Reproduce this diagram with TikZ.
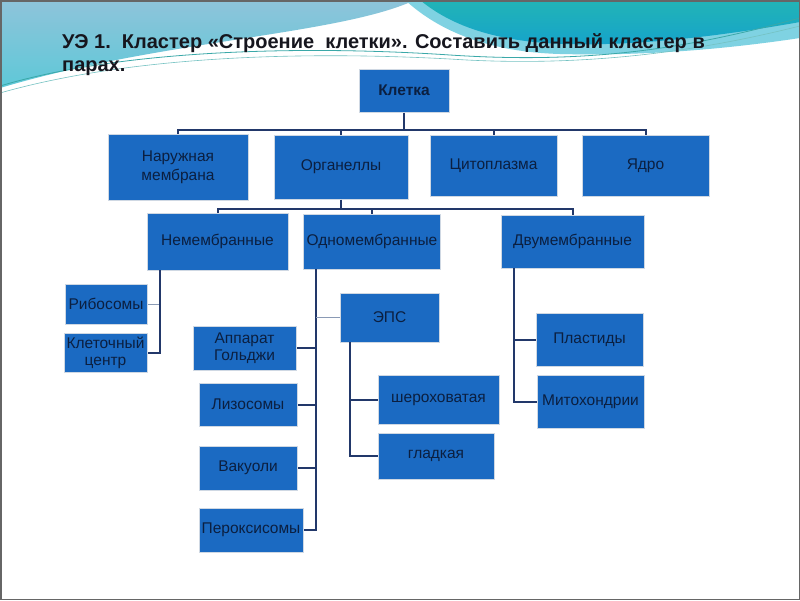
\documentclass[tikz,border=0pt]{standalone}
\usepackage{fontspec}
\setmainfont{Liberation Sans}
\definecolor{boxfill}{HTML}{1B6AC2}
\definecolor{boxline}{HTML}{CFD8E3}
\definecolor{boxtxt}{HTML}{0B1F40}
\definecolor{connc}{HTML}{22386A}
\definecolor{thinc}{HTML}{8A9AB5}
\definecolor{lblue}{HTML}{8EC4DA}
\definecolor{lblueb}{HTML}{5EC8D8}
\definecolor{cyanl}{HTML}{7FD2E2}
\definecolor{cyand}{HTML}{15A3CB}
\definecolor{cyant}{HTML}{22B4B6}
\definecolor{tealline}{HTML}{3AA8A8}
\definecolor{titlec}{HTML}{16161E}
\tikzset{
  box/.style={draw=boxline, line width=1pt, fill=boxfill, text=boxtxt, inner sep=1pt,
    align=center, font=\fontsize{15.5}{19}\selectfont},
  conn/.style={draw=connc, line width=2pt},
  thinconn/.style={draw=thinc, line width=1pt},
}
\begin{document}
\begin{tikzpicture}[x=1pt,y=-1pt]
\useasboundingbox (0,0) rectangle (800,600);
\fill[white] (0,0) rectangle (800,600);
% banner
\shade[top color=lblue, bottom color=lblueb] (0,0) -- (415,0) .. controls (340,35) and (160,40) .. (0,88) -- cycle;
\fill[cyanl] (405,0) -- (800,0) -- (800,38) .. controls (720,50) and (640,56) .. (560,54) .. controls (490,52) and (440,32) .. (405,0) -- cycle;
\shade[top color=cyant, bottom color=cyand] (420,0) -- (800,0) -- (800,22) .. controls (710,38) and (630,46) .. (565,44) .. controls (495,42) and (450,25) .. (420,0) -- cycle;
\draw[tealline, line width=0.8pt] (0,86) .. controls (120,50) and (300,45) .. (450,55) .. controls (600,65) and (700,45) .. (800,18);
\draw[tealline!70, line width=0.6pt] (0,93) .. controls (130,56) and (300,51) .. (450,59) .. controls (600,69) and (720,46) .. (800,26);
% title
\node[anchor=base west, text=titlec, font=\fontsize{20}{24}\bfseries, inner sep=0pt] (t1) at (62,48) {УЭ 1.\ \ Кластер «Строение\ \ клетки». Составить данный кластер в};
\node[anchor=base west, text=titlec, font=\fontsize{20}{24}\bfseries, inner sep=0pt] (t2) at (62,71) {парах.};
% junction points
\coordinate (b1) at (404,130);
\coordinate (b2) at (341,209);
\coordinate (nemv) at (160,270);
\coordinate (odnv) at (316,269);
\coordinate (epsv) at (350,342);
\coordinate (dvuv) at (514,268);
% boxes
\node[box, minimum width=90pt, minimum height=43pt, font=\fontsize{15.5}{18}\bfseries] (kl) at (404,90.5) {Клетка};
\node[box, minimum width=140pt, minimum height=66pt] (nm) at (178,167) {Наружная\\мембрана};
\node[box, minimum width=134pt, minimum height=64pt] (org) at (341,167) {Органеллы};
\node[box, minimum width=127pt, minimum height=61pt] (cyt) at (493.5,165.5) {Цитоплазма};
\node[box, minimum width=127pt, minimum height=61pt] (yad) at (645.5,165.5) {Ядро};
\node[box, minimum width=141pt, minimum height=57pt] (nem) at (217.5,241.5) {Немембранные};
\node[box, minimum width=137pt, minimum height=55pt] (odn) at (372,241.5) {Одномембранные};
\node[box, minimum width=143pt, minimum height=53pt] (dvu) at (572.5,241.5) {Двумембранные};
\node[box, minimum width=82pt, minimum height=40pt] (rib) at (106,304) {Рибосомы};
\node[box, minimum width=83pt, minimum height=39pt, font=\fontsize{15.5}{17}\selectfont] (kc) at (105.5,352.5) {Клеточный\\центр};
\node[box, minimum width=103pt, minimum height=44pt, font=\fontsize{15.5}{17}\selectfont] (gol) at (244.5,348) {Аппарат\\Гольджи};
\node[box, minimum width=98pt, minimum height=43pt] (liz) at (248,404.5) {Лизосомы};
\node[box, minimum width=98pt, minimum height=44pt] (vak) at (248,468) {Вакуоли};
\node[box, minimum width=104pt, minimum height=44pt] (per) at (251,530) {Пероксисомы};
\node[box, minimum width=99pt, minimum height=49pt] (eps) at (389.5,317.5) {ЭПС};
\node[box, minimum width=121pt, minimum height=49pt] (sher) at (438.5,399.5) {шероховатая};
\node[box, minimum width=116pt, minimum height=46pt] (glad) at (436,456) {гладкая};
\node[box, minimum width=107pt, minimum height=53pt] (pla) at (589.5,339.5) {Пластиды};
\node[box, minimum width=107pt, minimum height=53pt] (mit) at (590.5,401.5) {Митохондрии};
% connectors level 1
\draw[conn] (kl.south) -- (b1);
\draw[conn] (b1) -| (nm.north);
\draw[conn] (b1) -| (org.north);
\draw[conn] (b1) -| (cyt.north);
\draw[conn] (b1) -| (yad.north);
% level 2
\draw[conn] (org.south) -- (b2);
\draw[conn] (b2) -| (nem.north);
\draw[conn] (b2) -| (odn.north);
\draw[conn] (b2) -| (dvu.north);
% level 3
\draw[thinconn] (nemv) |- (rib.east);
\draw[conn] (nemv) |- (kc.east);
\draw[conn] (odnv) |- (gol.east);
\draw[conn] (odnv) |- (liz.east);
\draw[conn] (odnv) |- (vak.east);
\draw[conn] (odnv) |- (per.east);
\draw[thinconn] (odnv |- eps.west) -- (eps.west);
\draw[conn] (epsv) |- (sher.west);
\draw[conn] (epsv) |- (glad.west);
\draw[conn] (dvuv) |- (pla.west);
\draw[conn] (dvuv) |- (mit.west);
% frame
\draw[gray!80!black, line width=1.5pt] (0.75,0.75) rectangle (799.25,599.25);
\end{tikzpicture}
\end{document}
